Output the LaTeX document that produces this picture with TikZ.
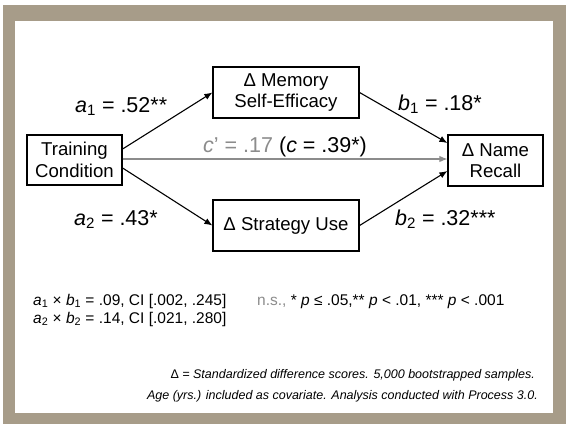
\documentclass[tikz,border=0pt]{standalone}
\usepackage{fontspec}
\setmainfont{Liberation Sans}
\usetikzlibrary{arrows.meta,calc}
\definecolor{tanframe}{RGB}{167,156,137}
\definecolor{cgray}{RGB}{140,140,140}
\begin{document}
\begin{tikzpicture}[x=1pt,y=-1pt,
  box/.style={draw=black,line width=1.2pt,fill=white,align=center,inner sep=0pt,font=\fontsize{18.6}{21.5}\selectfont},
  lab/.style={anchor=base west,inner sep=0pt,font=\fontsize{21.5}{24}\selectfont},
  stat/.style={anchor=base west,inner sep=0pt,font=\fontsize{15.5}{18}\selectfont},
  note/.style={anchor=base east,inner sep=0pt,font=\fontsize{12.5}{15}\selectfont\itshape},
  arr/.style={line width=1.1pt,-{Latex[length=8pt,width=6.5pt]}},
  garr/.style={line width=1.1pt,draw=cgray,-{Latex[length=8pt,width=6.5pt]}}
]
\useasboundingbox (0,0) rectangle (566,424);
\fill[tanframe] (3,5) rectangle (566,424);
\fill[white] (15,21) rectangle (553,413);

\node[box,minimum width=95pt,minimum height=50pt] (tc) at (74.5,160) {Training\\Condition};
\node[box,minimum width=146pt,minimum height=51pt] (mse) at (286,92.5) {Δ Memory\\Self-Efficacy};
\node[box,minimum width=146pt,minimum height=51pt] (su) at (286,225.5) {Δ Strategy Use};
\node[box,minimum width=95pt,minimum height=51pt] (nr) at (495.5,160.5) {Δ Name\\Recall};

\draw[arr] ($(tc.east)+(0,-11)$) -- (mse.west);
\draw[arr] ($(tc.east)+(0,8)$) -- (su.west);
\draw[arr] (mse.east) -- ($(nr.west)+(0,-17.5)$);
\draw[arr] (su.east) -- ($(nr.west)+(0,10.5)$);
\draw[garr] ($(tc.east)+(0,-1)$) -- ($(nr.west)+(0,-1.5)$);

\node[lab] (la1) at (75,112) {\textit{a}\textsubscript{1} = .52**};
\node[lab] (la2) at (74,225) {\textit{a}\textsubscript{2} = .43*};
\node[lab] (lb1) at (398,110) {\textit{b}\textsubscript{1} = .18*};
\node[lab] (lb2) at (395,225) {\textit{b}\textsubscript{2} = .32***};
\node[lab] (lc) at (203,152) {{\color{cgray}\textit{c}’ = .17} (\textit{c} = .39*)};

\node[stat] (ind1) at (33,305) {\textit{a}\textsubscript{1} × \textit{b}\textsubscript{1} = .09, CI [.002, .245]};
\node[stat] (ind2) at (33,323) {\textit{a}\textsubscript{2} × \textit{b}\textsubscript{2} = .14, CI [.021, .280]};
\node[stat] (sig) at (257,305) {{\color{cgray}n.s.,} * \textit{p} ≤ .05,** \textit{p} < .01, *** \textit{p} < .001};

\node[note] (n1) at (535,378) {{\upshape Δ} = Standardized difference scores. 5,000 bootstrapped samples.};
\node[note] (n2) at (538,399) {Age (yrs.) included as covariate. Analysis conducted with Process 3.0.};
\end{tikzpicture}
\end{document}
